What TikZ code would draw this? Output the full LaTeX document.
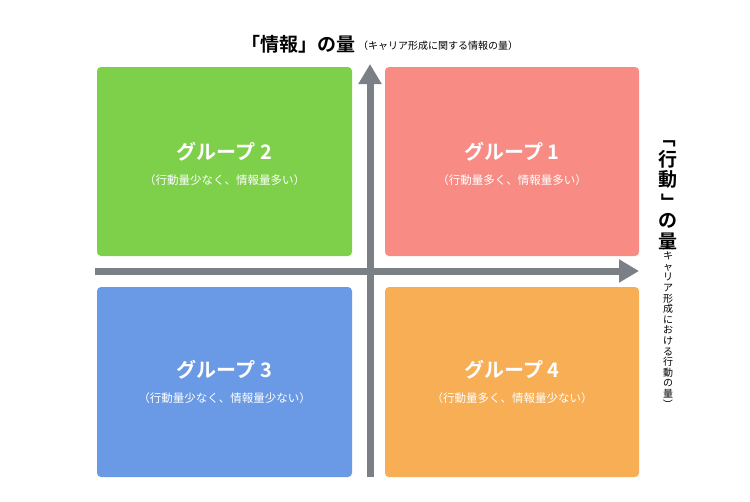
\documentclass[tikz,border=0pt]{standalone}
\usepackage{fontspec}
\usepackage{graphicx}
\setmainfont{Noto Sans CJK JP}
\newfontfamily\jpb{Noto Sans CJK JP Bold}
\usetikzlibrary{arrows.meta}
\definecolor{cg}{HTML}{7ED04B}
\definecolor{cr}{HTML}{F88C85}
\definecolor{cb}{HTML}{6A9AE6}
\definecolor{co}{HTML}{F7AE55}
\definecolor{ca}{HTML}{7A8086}
\newcommand{\rb}[1]{\rotatebox[origin=c]{-90}{#1}}
\begin{document}
\begin{tikzpicture}[x=1pt,y=-1pt,
  quad/.style={rounded corners=4pt},
  ttl/.style={text=white,font=\jpb\fontsize{20}{22}\selectfont},
  sub/.style={text=white,font=\fontsize{11.5}{13}\selectfont},
  axis/.style={ca,line width=7pt,-{Triangle[length=20pt,width=22pt]}}]
\useasboundingbox[fill=white] (0,0) rectangle (750,501);
\fill[cg,quad] (97,67) rectangle (352,256);
\fill[cr,quad] (385,67) rectangle (639,256);
\fill[cb,quad] (97,287) rectangle (352,477);
\fill[co,quad] (385,287) rectangle (639,477);
\node[ttl] (g2) at (224.5,152) {グループ 2};
\node[sub] (s2) at (224.5,180) {（行動量少なく、情報量多い）};
\node[ttl] (g1) at (512,152) {グループ 1};
\node[sub] (s1) at (512,180) {（行動量多く、情報量多い）};
\node[ttl] (g3) at (224.5,370) {グループ 3};
\node[sub] (s3) at (224.5,398) {（行動量少なく、情報量少ない）};
\node[ttl] (g4) at (512,370) {グループ 4};
\node[sub] (s4) at (512,398) {（行動量多く、情報量少ない）};
\coordinate (vb) at (370,477);
\coordinate (vt) at (370,64);
\coordinate (hl) at (95,271);
\coordinate (hr) at (639,271);
\draw[axis,-] (370,477) -- (370,100);
\draw[axis] (vb) -- (vt);
\draw[axis] (hl) -- (hr);
\node[anchor=east,font=\jpb\fontsize{19}{21}\selectfont,inner sep=0] (tl) at (356,44) {「情報」の量};
\node[anchor=west,font=\fontsize{10}{12}\selectfont,inner sep=0] (ts) at (358,46) {（キャリア形成に関する情報の量）};
\node[anchor=north,align=center,font=\jpb\fontsize{19}{20.5}\selectfont,inner sep=0] (rl) at (668,128)
 {\rb{「}\\行\\動\\\rb{」}\\の\\量};
\node[anchor=north,align=center,font=\fontsize{10}{10.6}\selectfont,inner sep=0] (rs) at (668,240)
 {\rb{（}\\キ\\ャ\\リ\\ア\\形\\成\\に\\お\\け\\る\\行\\動\\の\\量\\\rb{）}};
\end{tikzpicture}
\end{document}
